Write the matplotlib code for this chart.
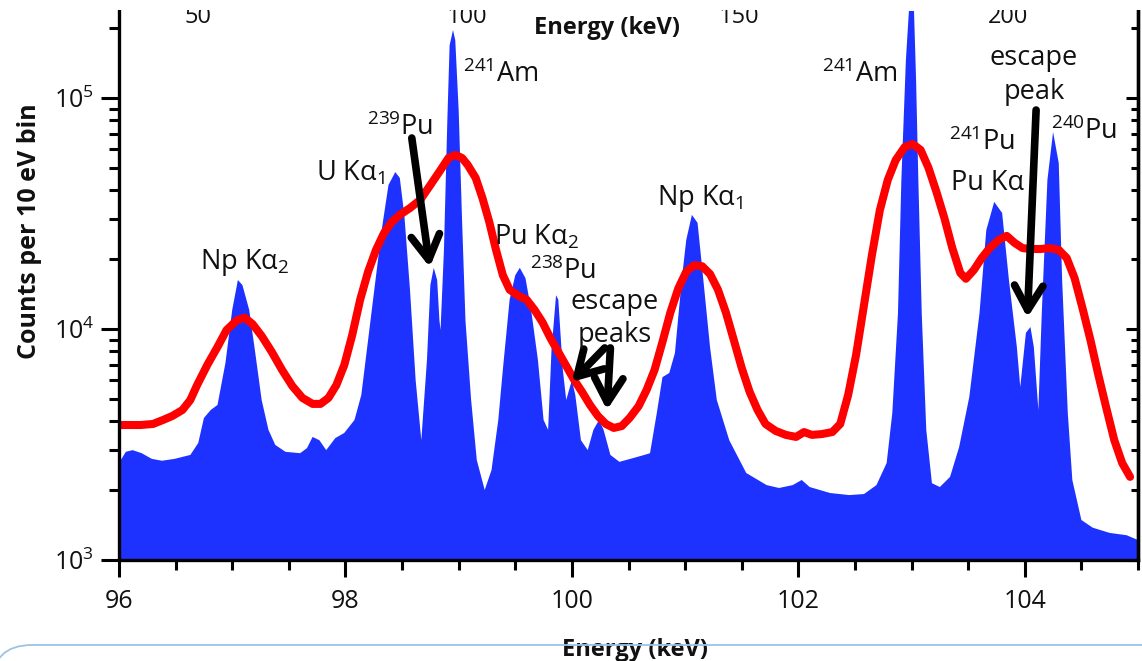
import matplotlib
matplotlib.use('Agg')
import matplotlib.pyplot as plt
from matplotlib.patches import FancyBboxPatch, Rectangle
import numpy as np

#--------------------------------------------------------60
# Data

# measured spectrum (blue): energy (keV), counts per 10 eV bin
spec_E = [96.00, 96.06, 96.12, 96.20, 96.29, 96.38, 96.49, 96.63, 96.70,
          96.75, 96.81, 96.87, 96.94, 97.00, 97.05, 97.09, 97.15, 97.20,
          97.26, 97.32, 97.38, 97.47, 97.60, 97.66, 97.71, 97.77, 97.83,
          97.91, 97.99, 98.08, 98.14, 98.20, 98.26, 98.32, 98.38, 98.44,
          98.48, 98.52, 98.57, 98.62, 98.67, 98.72, 98.75, 98.78, 98.81,
          98.83, 98.84, 98.87, 98.90, 98.92, 98.95, 98.97, 99.00, 99.03,
          99.06, 99.11, 99.16, 99.23, 99.29, 99.35, 99.39, 99.45, 99.50,
          99.54, 99.59, 99.64, 99.70, 99.75, 99.79, 99.82, 99.86, 99.88,
          99.92, 99.95, 100.00, 100.03, 100.08, 100.14, 100.19, 100.24,
          100.28, 100.34, 100.42, 100.55, 100.64, 100.69, 100.75, 100.80,
          100.86, 100.91, 100.97, 101.01, 101.06, 101.11, 101.15, 101.22,
          101.28, 101.39, 101.54, 101.72, 101.83, 101.95, 102.03, 102.10,
          102.28, 102.45, 102.58, 102.69, 102.78, 102.83, 102.88, 102.91,
          102.95, 102.98, 103.02, 103.04, 103.06, 103.09, 103.13, 103.18,
          103.25, 103.34, 103.42, 103.51, 103.60, 103.66, 103.73, 103.80,
          103.86, 103.93, 103.96, 104.01, 104.05, 104.08, 104.12, 104.15,
          104.20, 104.25, 104.30, 104.33, 104.38, 104.42, 104.50, 104.60,
          104.75, 104.90, 105.00]
spec_C = [2630, 2940, 2990, 2900, 2740, 2690, 2740, 2850, 3210,
          4120, 4460, 4690, 7130, 12100, 16300, 15500, 12100, 8110,
          4930, 3660, 3150, 2940, 2900, 3050, 3410, 3300, 2990,
          3370, 3550, 4040, 5180, 8960, 15500, 26800, 42000, 47800,
          45100, 31200, 14800, 6010, 3300, 7340, 15500, 18400, 16300,
          10900, 9900, 22000, 80300, 169000, 197000, 178000, 88700, 29600,
          10900, 4930, 2710, 2010, 2450, 4040, 6650, 13400, 17100,
          18400, 16600, 12100, 7340, 4040, 3660, 8110, 14000, 13400,
          6650, 4930, 6010, 5180, 3300, 2990, 3660, 4040,
          3660, 2850, 2660, 2770, 2850, 2900, 4330, 6190,
          6450, 7870, 16300, 24300, 31200, 28800, 18500, 8360,
          4930, 3300, 2380, 2110, 2050, 2110, 2220, 2070,
          1950, 1910, 1930, 2110, 2630, 4330, 11700, 44200,
          146000, 253000, 253000, 120000, 44200, 11700, 3660, 2150,
          2070, 2290, 3080, 5080, 11700, 26800, 35500, 31800,
          16300, 8360, 5610, 9620, 10200, 8360, 4460, 11700,
          44200, 71300, 52300, 16300, 4330, 2220, 1490, 1380,
          1310, 1280, 1220]

# broadened spectrum (red)
broad_E = [96.00, 96.19, 96.30, 96.39, 96.47, 96.56, 96.63, 96.69, 96.78,
           96.87, 96.95, 97.04, 97.11, 97.18, 97.26, 97.35, 97.44, 97.53,
           97.62, 97.71, 97.78, 97.85, 97.92, 97.99, 98.06, 98.13, 98.20,
           98.27, 98.34, 98.41, 98.48, 98.57, 98.66, 98.75, 98.84, 98.91,
           98.97, 99.03, 99.08, 99.15, 99.21, 99.27, 99.33, 99.39, 99.45,
           99.53, 99.60, 99.67, 99.74, 99.81, 99.88, 99.95, 100.02, 100.09,
           100.16, 100.23, 100.30, 100.37, 100.44, 100.51, 100.59, 100.66,
           100.73, 100.80, 100.87, 100.94, 101.01, 101.08, 101.15, 101.22,
           101.29, 101.36, 101.43, 101.50, 101.57, 101.64, 101.71, 101.80,
           101.89, 101.98, 102.05, 102.12, 102.21, 102.30, 102.37, 102.44,
           102.51, 102.58, 102.65, 102.72, 102.79, 102.86, 102.94, 103.01,
           103.08, 103.15, 103.22, 103.29, 103.36, 103.43, 103.48, 103.55,
           103.62, 103.69, 103.77, 103.84, 103.91, 103.98, 104.05, 104.14,
           104.22, 104.30, 104.37, 104.44, 104.51, 104.58, 104.65, 104.72,
           104.79, 104.86, 104.93]
broad_C = [3840, 3840, 3880, 4040, 4200, 4460, 4930, 5720, 6990,
           8360, 9900, 10900, 11200, 10500, 9330, 7950, 6650, 5670,
           5030, 4740, 4740, 5030, 5720, 6990, 9420, 13400, 17700,
           22000, 26000, 29100, 31200, 33400, 36200, 42000, 48800, 55000,
           56700, 55000, 51300, 45100, 36900, 29100, 22000, 17100, 14800,
           13900, 13400, 12100, 10700, 9140, 7950, 6920, 6020, 5340,
           4690, 4200, 3880, 3730, 3800, 4120, 4640, 5450,
           6650, 8790, 11800, 15000, 17700, 18900, 18700, 17300,
           14800, 11800, 8960, 6780, 5340, 4460, 3880, 3620,
           3480, 3410, 3580, 3480, 3510, 3580, 3880, 5180,
           7720, 12700, 20900, 32700, 44200, 53900, 61400, 63200,
           59600, 49800, 39200, 30200, 22400, 17500, 16500, 18000,
           20300, 22400, 24300, 25300, 23600, 22400, 22200, 22200,
           22400, 22000, 20300, 16600, 12300, 8960, 6320, 4550,
           3310, 2630, 2290]

top_ticks = ['50', '100', '150', '200']

#--------------------------------------------------------60

plt.rcParams['font.family'] = ['Open Sans', 'DejaVu Sans']
plt.rcParams['mathtext.fontset'] = 'custom'
plt.rcParams['mathtext.rm'] = 'Open Sans'
plt.rcParams['mathtext.it'] = 'Open Sans'
plt.rcParams['mathtext.bf'] = 'Open Sans:bold'

W, H = 1142, 661
fig = plt.figure(figsize=(W/100., H/100.), dpi=100)

def fx(px): return px/float(W)
def fy(py): return 1 - py/float(H)

ax = fig.add_axes([fx(119), fy(560), fx(1138)-fx(119), fy(11)-fy(560)])

blue = '#1e32ff'
ax.fill_between(spec_E, 1, spec_C, color=blue, lw=0, zorder=1)
ax.plot(broad_E, broad_C, color='#ff0000', lw=5.8, solid_capstyle='round',
        solid_joinstyle='round', zorder=2)

ax.set_yscale('log')
ax.set_xlim(96, 105)
ax.set_ylim(1000, 10**(3 + 549/231.))
ax.set_xticks([96, 98, 100, 102, 104])
ax.set_xticks(np.arange(96.5, 105.01, 0.5), minor=True)

for s in ['left', 'bottom', 'right']:
    ax.spines[s].set_linewidth(2.4)
ax.spines['top'].set_visible(False)

ax.tick_params(axis='x', which='major', length=12, width=2.2, pad=9,
               labelsize=18, direction='out', labelcolor='#111111')
ax.tick_params(axis='x', which='minor', length=7.5, width=2.2, direction='out')
ax.tick_params(axis='y', which='major', length=13, width=2.2, pad=5,
               labelsize=18, direction='out', labelcolor='#111111')
ax.tick_params(axis='y', which='minor', length=7.5, width=2.2, direction='out')

# right axis: inward ticks, no labels
ax2 = ax.twinx()
ax2.set_yscale('log')
ax2.set_ylim(ax.get_ylim())
ax2.spines['top'].set_visible(False)
ax2.spines['right'].set_linewidth(2.4)
ax2.tick_params(axis='y', which='major', length=9, width=2.2, direction='in',
                labelright=False)
ax2.tick_params(axis='y', which='minor', length=5, width=2.2, direction='in',
                labelright=False)

#-------------------------------------
# Peak labels

fs = 19.5
lab = dict(fontsize=fs, ha='center', va='center', color='#111111', zorder=5)
ax.text(97.11, 19500, u'Np K\u03b1$_2$', **lab)
ax.text(98.04, 47300, u'U K\u03b1$_1$', **lab)
ax.text(98.48, 74100, '$^{239}$Pu', **lab)
ax.text(99.37, 126000, '$^{241}$Am', **lab)
ax.text(99.69, 25000, u'Pu K\u03b1$_2$', **lab)
ax.text(99.92, 17700, '$^{238}$Pu', **lab)
ax.text(100.38, 13100, 'escape', **lab)
ax.text(100.38, 9420, 'peaks', **lab)
ax.text(101.13, 36900, u'Np K\u03b1$_1$', **lab)
ax.text(102.54, 126000, '$^{241}$Am', **lab)
ax.text(104.08, 149000, 'escape', **lab)
ax.text(104.08, 106000, 'peak', **lab)
ax.text(103.62, 63800, '$^{241}$Pu', **lab)
ax.text(103.67, 42800, u'Pu K\u03b1', **lab)
ax.text(104.52, 71300, '$^{240}$Pu', **lab)

arr = dict(arrowstyle='->,head_length=0.55,head_width=0.32', lw=5.5,
           color='black', mutation_scale=32, shrinkA=0, shrinkB=0)
ax.annotate('', xy=(98.745, 18500), xytext=(98.586, 67100), arrowprops=arr,
            zorder=4)
ax.annotate('', xy=(99.998, 5900), xytext=(100.29, 8280), arrowprops=arr,
            zorder=4)
ax.annotate('', xy=(100.31, 4460), xytext=(100.34, 8280), arrowprops=arr,
            zorder=4)
ax.annotate('', xy=(104.023, 11200), xytext=(104.10, 88700), arrowprops=arr,
            zorder=4)

#-------------------------------------
# Axis titles and remnants of the panel above

fig.text(fx(30), fy(231), 'Counts per 10 eV bin', rotation=90, fontsize=18,
         fontweight='bold', ha='center', va='center', color='#111111')
fig.text(fx(635), fy(656), 'Energy (keV)', fontsize=17, fontweight='bold',
         ha='center', va='baseline', color='#111111')

for lbl, px in zip(top_ticks, [198, 467, 739, 1008]):
    fig.text(fx(px), fy(23), lbl, fontsize=17, ha='center', va='baseline',
             color='#111111', zorder=3)
fig.text(fx(607), fy(28), 'Energy (keV)', fontsize=17, fontweight='bold',
         ha='center', va='center', color='#111111', zorder=3)

# white strip cutting the top of the image
fig.add_artist(Rectangle((0, fy(10)), 1, 1 - fy(10), transform=fig.transFigure,
                         facecolor='white', edgecolor='none', zorder=8))

# light blue rounded frame at the bottom
fig.add_artist(FancyBboxPatch((-8, -200), 1400, 216,
                              boxstyle='round,pad=0,rounding_size=40',
                              transform=None, facecolor='none',
                              edgecolor='#9cc3e5', lw=1.3, zorder=9))

fig.savefig('out.png', dpi=100)
